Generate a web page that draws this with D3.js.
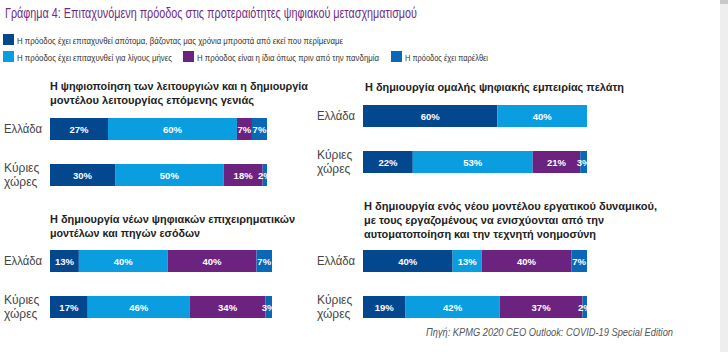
<!DOCTYPE html>
<html>
<head>
<meta charset="utf-8">
<script src="https://cdn.jsdelivr.net/npm/d3@7"></script>
<style>
  body { margin: 0; background: #fff; }
  svg { display: block; }
</style>
</head>
<body>
<div id="chart"></div>
<script>
// chart data
const chartTitle = "Γράφημα 4: Επιταχυνόμενη πρόοδος στις προτεραιότητες ψηφιακού μετασχηματισμού";
const seriesNames = [
    "Η πρόοδος έχει επιταχυνθεί απότομα, βάζοντας μας χρόνια μπροστά από εκεί που περίμεναμε",
    "Η πρόοδος έχει επιταχυνθεί για λίγους μήνες",
    "Η πρόοδος είναι η ίδια όπως πριν από την πανδημία",
    "Η πρόοδος έχει παρέλθει"
];
const categories = ["Ελλάδα", "Κύριες χώρες"];
const panelTitles = [
    ["Η ψηφιοποίηση των λειτουργιών και η δημιουργία", "μοντέλου λειτουργίας επόμενης γενιάς"],
    ["Η δημιουργία ομαλής ψηφιακής εμπειρίας πελάτη"],
    ["Η δημιουργία νέων ψηφιακών επιχειρηματικών", "μοντέλων και πηγών εσόδων"],
    ["Η δημιουργία ενός νέου μοντέλου εργατικού δυναμικού,", "με τους εργαζομένους να ενισχύονται από την", "αυτοματοποίηση και την τεχνητή νοημοσύνη"]
];
const greeceValues = [[27, 60, 7, 7], [60, 40, 0, 0], [13, 40, 40, 7], [40, 13, 40, 7]];
const mainCountriesValues = [[30, 50, 18, 2], [22, 53, 21, 3], [17, 46, 34, 3], [19, 42, 37, 2]];
const sourceText = "Πηγή: KPMG 2020 CEO Outlook: COVID-19 Special Edition";

const colors = ["#03478f", "#0a9ddf", "#6c2380", "#0a69b6"];
const sans = "'Liberation Sans', Arial, sans-serif";

const width = 728, height = 352;

const svg = d3.select("#chart").append("svg")
    .attr("width", width)
    .attr("height", height);

// shrink the font towards target width, but not below minSize; squeeze the rest
function fitText(sel, target, size, minSize) {
    sel.attr("font-size", size);
    const len = sel.node().getComputedTextLength();
    if (len > target) {
        const s = Math.max(minSize, size * target / len);
        sel.attr("font-size", s);
        if (sel.node().getComputedTextLength() > target) {
            sel.attr("textLength", target).attr("lengthAdjust", "spacingAndGlyphs");
        }
    }
    return sel;
}

// grey strip on the right edge
svg.append("rect").attr("x", 720).attr("y", 0).attr("width", 8).attr("height", height).attr("fill", "#eeeeee");
svg.append("rect").attr("x", 720).attr("y", 0).attr("width", 8).attr("height", 4).attr("fill", "#c8c8c8");

// title
svg.append("text")
    .attr("x", 5).attr("y", 18)
    .attr("font-family", sans)
    .attr("font-size", 14)
    .attr("fill", "#6f2c85")
    .attr("textLength", 412)
    .attr("lengthAdjust", "spacingAndGlyphs")
    .text(chartTitle);

// legend
const legendPos = [
    {x: 3, y: 34, len: 326},
    {x: 3, y: 51, len: 155},
    {x: 183, y: 51, len: 182},
    {x: 391, y: 51, len: 83}
];
const legend = svg.append("g").attr("class", "legend");
seriesNames.forEach((name, i) => {
    const p = legendPos[i];
    legend.append("rect")
        .attr("x", p.x).attr("y", p.y)
        .attr("width", 11).attr("height", 11)
        .attr("fill", colors[i]);
    const t = legend.append("text")
        .attr("x", p.x + 14).attr("y", p.y + 9.5)
        .attr("font-family", sans)
        .attr("fill", "#333")
        .text(name);
    fitText(t, p.len, 11, 9);
});

// panel layout
const panels = [
    {x: 50, w: 217, labelX: 4, titleX: 50, titleY: 90, barY: [118, 164], titleLen: [258, 204]},
    {x: 363, w: 224, labelX: 317, titleX: 365, titleY: 91, barY: [105, 151], titleLen: [259]},
    {x: 50, w: 222, labelX: 4, titleX: 50, titleY: 223, barY: [250, 296], titleLen: [245, 150]},
    {x: 363, w: 224, labelX: 317, titleX: 364, titleY: 210, barY: [250, 296], titleLen: [293, 240, 232]}
];
const barH = 22;

panels.forEach((p, pi) => {
    const g = svg.append("g").attr("class", "panel");

    panelTitles[pi].forEach((line, li) => {
        g.append("text")
            .attr("x", p.titleX)
            .attr("y", p.titleY + li * 14)
            .attr("font-family", sans)
            .attr("font-size", 11)
            .attr("font-weight", "bold")
            .attr("fill", "#222")
            .attr("textLength", p.titleLen[li])
            .attr("lengthAdjust", "spacingAndGlyphs")
            .text(line);
    });

    const rows = [greeceValues[pi], mainCountriesValues[pi]];
    rows.forEach((vals, ri) => {
        const y = p.barY[ri];
        const total = d3.sum(vals);
        const x = d3.scaleLinear().domain([0, total]).range([p.x, p.x + p.w]);
        const stack = [];
        let acc = 0;
        vals.forEach((v, i) => { stack.push({v: v, i: i, x0: acc, x1: acc + v}); acc += v; });
        const segs = stack.filter(d => d.v > 0);

        const clipId = `clip-${pi}-${ri}`;
        g.append("clipPath").attr("id", clipId)
            .append("rect")
            .attr("x", p.x).attr("y", y)
            .attr("width", p.w).attr("height", barH);

        const bar = g.append("g").attr("clip-path", `url(#${clipId})`);

        bar.selectAll("rect.seg")
            .data(segs)
            .enter()
            .append("rect")
            .attr("class", "seg")
            .attr("x", d => x(d.x0))
            .attr("y", y)
            .attr("width", d => x(d.x1) - x(d.x0))
            .attr("height", barH)
            .attr("fill", d => colors[d.i]);

        bar.selectAll("text.val")
            .data(segs)
            .enter()
            .append("text")
            .attr("class", "val")
            .attr("x", d => (x(d.x0) + x(d.x1)) / 2)
            .attr("y", y + barH / 2 + 3.5)
            .attr("text-anchor", "middle")
            .attr("font-family", sans)
            .attr("font-size", 9.5)
            .attr("font-weight", "bold")
            .attr("fill", "#fff")
            .text(d => d.v + "%");

        // row label
        if (ri === 0) {
            const t = g.append("text")
                .attr("x", p.labelX).attr("y", y + 14.5)
                .attr("font-family", sans)
                .attr("fill", "#444")
                .text(categories[0]);
            fitText(t, 38, 13, 12.5);
        } else {
            categories[1].split(" ").forEach((w, wi) => {
                const t = g.append("text")
                    .attr("x", p.labelX)
                    .attr("y", y + 8 + wi * 14)
                    .attr("font-family", sans)
                    .attr("fill", "#444")
                    .text(w);
                fitText(t, 37, 12, 12);
            });
        }
    });
});

// source
svg.append("text")
    .attr("x", 426).attr("y", 336)
    .attr("font-family", sans)
    .attr("font-size", 10)
    .attr("font-style", "italic")
    .attr("fill", "#555")
    .attr("textLength", 247)
    .attr("lengthAdjust", "spacingAndGlyphs")
    .text(sourceText);
</script>
</body>
</html>
